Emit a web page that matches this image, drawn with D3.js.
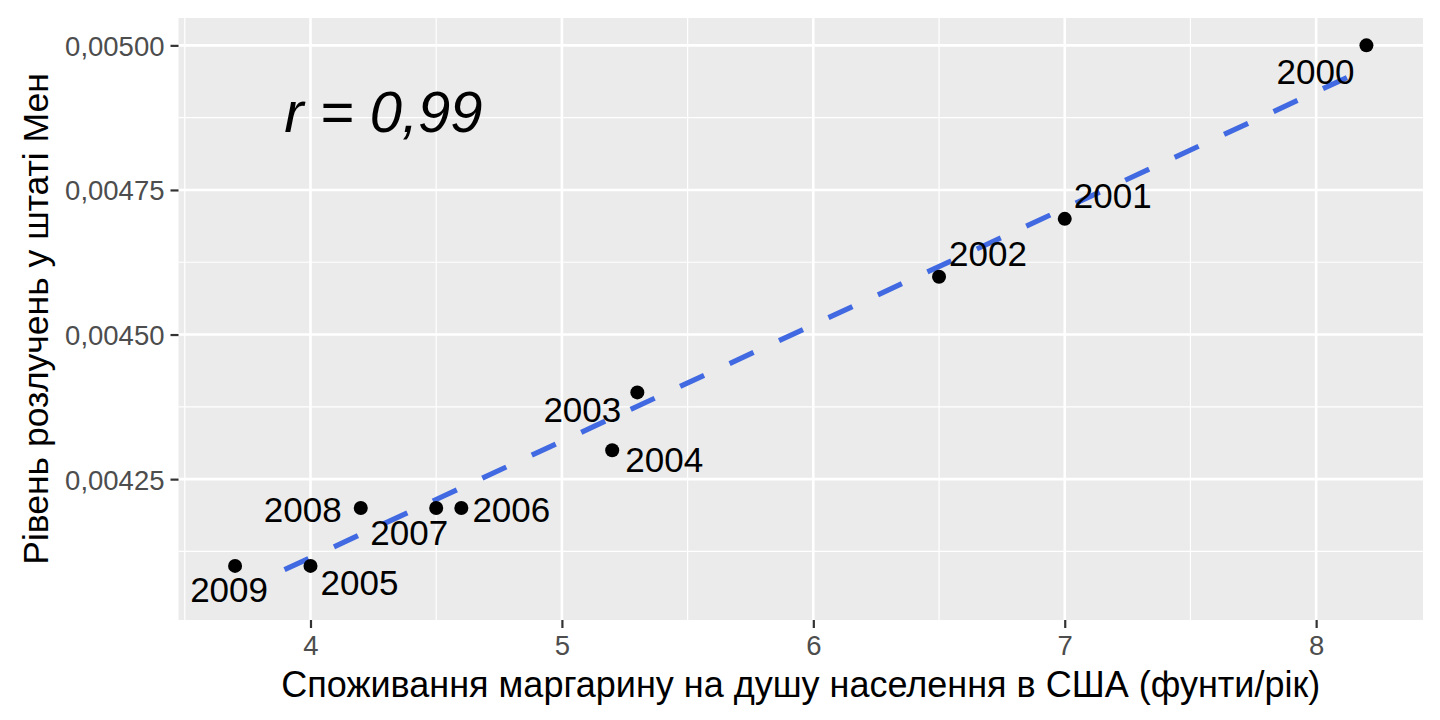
<!DOCTYPE html>
<html>
<head>
<meta charset="utf-8">
<script src="https://cdn.jsdelivr.net/npm/d3@7"></script>
<style>
  html, body { margin: 0; padding: 0; background: #ffffff; }
  svg { display: block; font-family: "Liberation Sans", Arial, Helvetica, sans-serif; }
</style>
</head>
<body>
<svg id="chart" width="1440" height="720"></svg>
<script>
// ---- data ----
const years = [2000, 2001, 2002, 2003, 2004, 2005, 2006, 2007, 2008, 2009];
const margarine = [8.2, 7.0, 6.5, 5.3, 5.2, 4.0, 4.6, 4.5, 4.2, 3.7];
const divorceRate = [0.0050, 0.0047, 0.0046, 0.0044, 0.0043, 0.0041, 0.0042, 0.0042, 0.0042, 0.0041];
const xTicks = [4, 5, 6, 7, 8];
const yTicks = [0.00425, 0.00450, 0.00475, 0.00500];
const xTitle = "Споживання маргарину на душу населення в США (фунти/рік)";
const yTitle = "Рівень розлучень у штаті Мен";
const rLabel = "r = 0,99";

// ---- label placement (pixel offsets from each point, like ggrepel) ----
const labelOffsets = [[-51, 28], [48, -21], [49, -21], [-55, 19], [52, 11],
                      [49, 19], [50, 3], [-27, 26], [-58, 3], [-6, 26]];

// ---- layout ----
const W = 1440, H = 720;
const panel = { left: 178.5, right: 1423, top: 18, bottom: 620 };

const svg = d3.select("#chart");

// linear fit (geom_smooth method = "lm")
const n = margarine.length;
const mx = d3.mean(margarine), my = d3.mean(divorceRate);
let sxy = 0, sxx = 0;
for (let i = 0; i < n; i++) {
  sxy += (margarine[i] - mx) * (divorceRate[i] - my);
  sxx += (margarine[i] - mx) ** 2;
}
const slope = sxy / sxx, intercept = my - slope * mx;
const xExt = d3.extent(margarine);
const fitLine = xExt.map(x => [x, intercept + slope * x]);

// scales with ggplot-like 5% expansion
function expand(ext) { const d = (ext[1] - ext[0]) * 0.05; return [ext[0] - d, ext[1] + d]; }
const yAll = divorceRate.concat(fitLine.map(d => d[1]));
const x = d3.scaleLinear().domain(expand(xExt)).range([panel.left, panel.right]);
const y = d3.scaleLinear().domain(expand(d3.extent(yAll))).range([panel.bottom, panel.top]);

// panel background
svg.append("rect")
  .attr("x", panel.left).attr("y", panel.top)
  .attr("width", panel.right - panel.left).attr("height", panel.bottom - panel.top)
  .attr("fill", "#EBEBEB");

// minor grid
const xMinor = d3.range(xTicks[0] - 0.5, xTicks[xTicks.length - 1] + 1, 1)
  .filter(v => x(v) >= panel.left && x(v) <= panel.right);
const yStep = yTicks[1] - yTicks[0];
const yMinor = d3.range(yTicks[0] - yStep / 2, yTicks[yTicks.length - 1] + yStep, yStep)
  .filter(v => y(v) >= panel.top && y(v) <= panel.bottom);

const grid = svg.append("g");
grid.selectAll(".xminor").data(xMinor).join("line")
  .attr("x1", d => x(d)).attr("x2", d => x(d))
  .attr("y1", panel.top).attr("y2", panel.bottom)
  .attr("stroke", "#ffffff").attr("stroke-width", 1.2);
grid.selectAll(".yminor").data(yMinor).join("line")
  .attr("y1", d => y(d)).attr("y2", d => y(d))
  .attr("x1", panel.left).attr("x2", panel.right)
  .attr("stroke", "#ffffff").attr("stroke-width", 1.2);
grid.selectAll(".xmajor").data(xTicks).join("line")
  .attr("x1", d => x(d)).attr("x2", d => x(d))
  .attr("y1", panel.top).attr("y2", panel.bottom)
  .attr("stroke", "#ffffff").attr("stroke-width", 2.6);
grid.selectAll(".ymajor").data(yTicks).join("line")
  .attr("y1", d => y(d)).attr("y2", d => y(d))
  .attr("x1", panel.left).attr("x2", panel.right)
  .attr("stroke", "#ffffff").attr("stroke-width", 2.6);

// axes
const fmtY = v => d3.format(".5f")(v).replace(".", ",");
const xAxis = svg.append("g")
  .attr("transform", `translate(0,${panel.bottom})`)
  .call(d3.axisBottom(x).tickValues(xTicks).tickSize(8).tickPadding(5).tickFormat(d3.format("d")));
const yAxis = svg.append("g")
  .attr("transform", `translate(${panel.left},0)`)
  .call(d3.axisLeft(y).tickValues(yTicks).tickSize(8).tickPadding(6).tickFormat(fmtY));
[xAxis, yAxis].forEach(a => {
  a.select(".domain").remove();
  a.selectAll(".tick line").attr("stroke", "#333333").attr("stroke-width", 2.2);
  a.selectAll(".tick text").attr("fill", "#4D4D4D")
    .style("font-size", "27.5px").style("font-family", "'Liberation Sans', Arial, sans-serif");
});
xAxis.selectAll(".tick text").attr("dy", "0.8em");
yAxis.selectAll(".tick text").attr("dy", "0.36em");

// fitted dashed line
const lineGen = d3.line().x(d => x(d[0])).y(d => y(d[1]));
const p0 = fitLine[0], p1 = fitLine[1];
const lineLen = Math.hypot(x(p1[0]) - x(p0[0]), y(p1[1]) - y(p0[1]));
const dashOn = 26.4, dashOff = 28.1, leadGap = dashOn + dashOff;
const dashParts = [0, leadGap];
for (let L = leadGap; L < lineLen + leadGap; L += dashOn + dashOff) dashParts.push(dashOn, dashOff);
svg.append("path")
  .datum(fitLine)
  .attr("d", lineGen)
  .attr("fill", "none")
  .attr("stroke", "#4169E1")
  .attr("stroke-width", 5.2)
  .attr("stroke-linecap", "butt")
  .attr("stroke-dasharray", dashParts.join(" "));

// points
const pts = years.map((yr, i) => ({ yr, mx: margarine[i], dv: divorceRate[i], off: labelOffsets[i] }));
svg.append("g").selectAll("circle").data(pts).join("circle")
  .attr("cx", d => x(d.mx)).attr("cy", d => y(d.dv))
  .attr("r", 7).attr("fill", "#000000");

// labels
svg.append("g").selectAll("text").data(pts).join("text")
  .attr("x", d => x(d.mx) + d.off[0])
  .attr("y", d => y(d.dv) + d.off[1])
  .attr("dy", "0.3em")
  .attr("text-anchor", "middle")
  .style("font-size", "35px")
  .attr("fill", "#000000")
  .text(d => d.yr);

// correlation annotation
svg.append("text")
  .attr("x", x(4.29)).attr("y", y(0.004885))
  .attr("dy", "0.34em")
  .attr("text-anchor", "middle")
  .style("font-size", "58px").style("font-style", "italic")
  .attr("fill", "#000000")
  .text(rLabel);

// axis titles
svg.append("text")
  .attr("x", (panel.left + panel.right) / 2).attr("y", 697)
  .attr("text-anchor", "middle")
  .style("font-size", "36px")
  .attr("fill", "#000000")
  .text(xTitle);
svg.append("text")
  .attr("transform", `translate(48,${(panel.top + panel.bottom) / 2}) rotate(-90)`)
  .attr("text-anchor", "middle")
  .style("font-size", "35.5px")
  .attr("fill", "#000000")
  .text(yTitle);
</script>
</body>
</html>
